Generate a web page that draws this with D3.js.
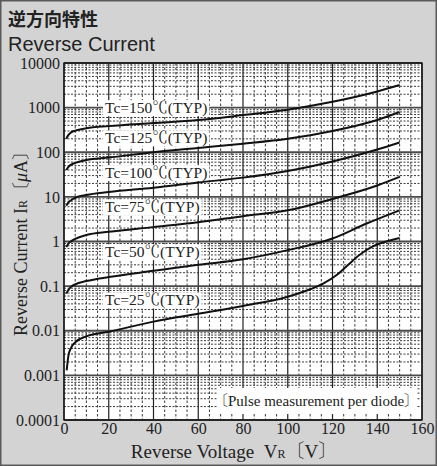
<!DOCTYPE html>
<html><head><meta charset="utf-8">
<script src="https://cdn.jsdelivr.net/npm/d3@7"></script>
<style>body{margin:0;background:#d3d3d3}svg{display:block}</style>
</head><body>
<script>
// ---- data ----
const temps = ["150", "125", "100", "75", "50", "25"];
const v150 = [[1,200],[2,245],[3,275],[5,305],[10,345],[20,385],[40,450],[60,525],[80,680],[100,900],[120,1350],[140,2300],[150,3200]];
const v125 = [[1,40],[2,47],[3,52],[5,58],[10,67],[20,76],[40,100],[60,125],[80,155],[100,200],[120,300],[140,530],[150,800]];
const v100 = [[1,6.3],[2,7.5],[3,8.3],[5,9.5],[10,11],[20,12.8],[40,16],[60,21],[80,27],[100,38],[120,62],[140,115],[150,165]];
const v75  = [[1,0.75],[2,0.9],[3,1.0],[5,1.15],[10,1.4],[20,1.65],[40,2.1],[60,2.7],[80,3.7],[100,5],[120,9],[140,18],[150,28]];
const v50  = [[1,0.068],[2,0.083],[3,0.095],[5,0.11],[10,0.13],[20,0.16],[40,0.22],[60,0.3],[80,0.4],[100,0.64],[120,1.17],[135,2.5],[150,5.0]];
const v25  = [[1.2,0.0013],[2,0.0028],[3,0.0040],[5,0.0055],[10,0.0075],[20,0.0095],[40,0.016],[60,0.024],[80,0.036],[100,0.058],[110,0.085],[116,0.115],[122,0.18],[127,0.3],[132,0.5],[138,0.78],[144,1.0],[150,1.2]];
const seriesData = [v150, v125, v100, v75, v50, v25];
const labelAnchor = [1000, 210, 35, 6, 0.59, 0.049];
const xTicks = [0,20,40,60,80,100,120,140,160];
const yTicks = [0.0001,0.001,0.01,0.1,1,10,100,1000,10000];
const yTickLabels = ["0.0001","0.001","0.01","0.1","1","10","100","1000","10000"];

const W = 437, H = 466;
const L = 64, R = 422, T = 63, B = 420;
const serif = "'Liberation Serif','Noto Serif CJK JP','Noto Sans CJK JP',serif";

const svg = d3.select("body").append("svg").attr("width", W).attr("height", H);
svg.append("rect").attr("x",0.75).attr("y",0.75).attr("width",W-1.5).attr("height",H-1.5)
  .attr("fill","#d3d3d4").attr("stroke","#5a5a5a").attr("stroke-width",1.5);

svg.append("text").attr("x",8).attr("y",26).attr("font-family","'Noto Sans CJK JP',sans-serif")
  .attr("font-weight","bold").attr("font-size",18).attr("fill","#222").text("逆方向特性");
svg.append("text").attr("x",8).attr("y",51).attr("font-family","'Liberation Sans',Arial,sans-serif")
  .attr("font-size",20).attr("fill","#222").text("Reverse Current");

const x = d3.scaleLinear().domain([0,160]).range([L,R]);
const y = d3.scaleLog().domain([0.0001,10000]).range([B,T]);

svg.append("rect").attr("x",L).attr("y",T).attr("width",R-L).attr("height",B-T).attr("fill","#fff");

const grid = svg.append("g");
// minor vertical
d3.range(0,161,5).filter(v => v%20 !== 0).forEach(v => {
  grid.append("line").attr("x1",x(v)).attr("x2",x(v)).attr("y1",T).attr("y2",B)
    .attr("stroke","#3a3a3a").attr("stroke-width",1).attr("stroke-dasharray","2.5,2");
});
// minor horizontal
for (let e=-4; e<4; e++) for (let k=2; k<=9; k++) {
  const v = k*Math.pow(10,e);
  grid.append("line").attr("x1",L).attr("x2",R).attr("y1",y(v)).attr("y2",y(v))
    .attr("stroke","#3a3a3a").attr("stroke-width",1).attr("stroke-dasharray","2,1.5");
}
// major
xTicks.forEach(v => grid.append("line").attr("x1",x(v)).attr("x2",x(v)).attr("y1",T).attr("y2",B)
  .attr("stroke","#222").attr("stroke-width",1.2));
yTicks.forEach(v => grid.append("line").attr("x1",L).attr("x2",R).attr("y1",y(v)).attr("y2",y(v))
  .attr("stroke","#4a4a4a").attr("stroke-width",1.8));

// curve labels
const lab = svg.append("g");
temps.forEach((t,i) => {
  const g = lab.append("g");
  const tx = g.append("text").attr("x",105).attr("y",y(labelAnchor[i])).attr("dominant-baseline","central")
    .attr("font-family",serif).attr("font-size",15.5).attr("fill","#222").text("Tc=" + t + "℃(TYP)");
  const bb = tx.node().getBBox();
  g.insert("rect","text").attr("x",bb.x-2).attr("y",bb.y+1).attr("width",bb.width+4).attr("height",bb.height-2).attr("fill","#fff");
});

// curves
const line = d3.line().x(d => x(d[0])).y(d => y(d[1])).curve(d3.curveMonotoneX);
seriesData.forEach(s => svg.append("path").attr("d", line(s)).attr("fill","none")
  .attr("stroke","#111").attr("stroke-width",2));

// pulse annotation
const pa = svg.append("g");
pa.append("rect").attr("x",217).attr("y",388).attr("width",199).attr("height",26).attr("fill","#fff");
pa.append("text").attr("x",316).attr("y",401).attr("text-anchor","middle").attr("dominant-baseline","central")
  .attr("font-family",serif).attr("font-size",15).attr("fill","#222").text("〔Pulse measurement per diode〕");

// frame
svg.append("rect").attr("x",L).attr("y",T).attr("width",R-L).attr("height",B-T)
  .attr("fill","none").attr("stroke","#111").attr("stroke-width",1.3);

// axes (labels)
const xa = svg.append("g").attr("transform",`translate(0,${B})`)
  .call(d3.axisBottom(x).tickValues(xTicks).tickSize(0).tickPadding(3));
xa.select(".domain").remove();
xa.selectAll("text").attr("font-family",serif).attr("font-size",16).attr("fill","#222");

const ya = svg.append("g").attr("transform",`translate(${L},0)`)
  .call(d3.axisLeft(y).tickValues(yTicks).tickFormat((d,i) => yTickLabels[i]).tickSize(0).tickPadding(4));
ya.select(".domain").remove();
ya.selectAll("text").attr("font-family",serif).attr("font-size",16).attr("fill","#222");

// axis titles
const xt = svg.append("text").attr("x",234).attr("y",458).attr("text-anchor","middle")
  .attr("font-family",serif).attr("font-size",19).attr("fill","#222");
xt.append("tspan").text("Reverse Voltage\u00a0\u00a0V");
xt.append("tspan").attr("font-size",12).text("R");
xt.append("tspan").text("〔V〕");

const yt = svg.append("text").attr("transform","translate(27,239) rotate(-90)").attr("text-anchor","middle")
  .attr("font-family",serif).attr("font-size",18).attr("fill","#222");
yt.append("tspan").text("Reverse Current I");
yt.append("tspan").attr("font-size",12).text("R");
yt.append("tspan").text("〔");
yt.append("tspan").attr("font-style","italic").text("μ");
yt.append("tspan").text("A〕");
</script>
</body></html>
